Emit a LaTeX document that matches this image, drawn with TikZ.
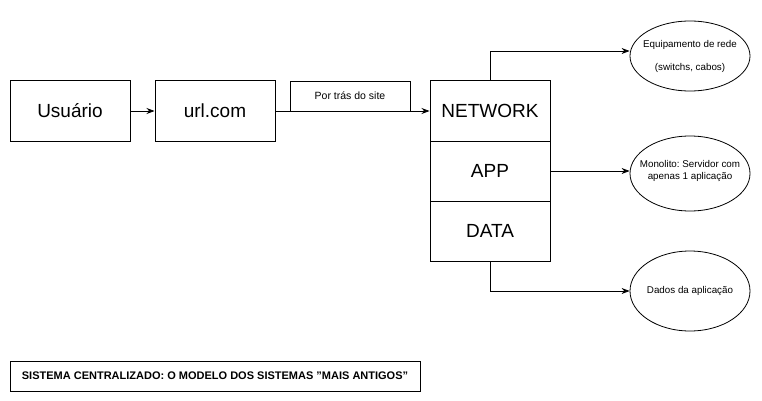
\documentclass[tikz,border=0pt]{standalone}
\usepackage{fontspec}
\setmainfont{Liberation Sans}
\usetikzlibrary{shapes.geometric,arrows.meta}
\frenchspacing
\begin{document}
\begin{tikzpicture}[x=1pt,y=-1pt,
  box/.style={draw,line width=1pt,minimum width=120pt,minimum height=60pt,inner sep=0pt,font=\fontsize{19}{22}\selectfont},
  oval/.style={draw,ellipse,line width=0.8pt,minimum width=120pt,inner sep=0pt},
  otext/.style={align=center,inner sep=0pt,font=\fontsize{9.8}{12}\selectfont},
  conn/.style={line width=0.8pt,-{Stealth[length=8pt,width=6pt]}}]
\useasboundingbox (0,0) rectangle (762,401);
\node[box] (usr) at (70,111) {Usuário};
\node[box] (url) at (215,111) {url.com};
\node[draw,line width=0.8pt,minimum width=120pt,minimum height=30pt,inner sep=0pt,font=\fontsize{10.5}{12}\selectfont] (por) at (350,96) {Por trás do site};
\node[box] (net) at (490,111) {NETWORK};
\node[box] (app) at (490,171) {APP};
\node[box] (dat) at (490,231) {DATA};
\node[oval,minimum height=70pt] (e1) at (690,56) {};
\node[otext] (t1) at (e1) {Equipamento de rede\\[11pt](switchs, cabos)};
\node[oval,minimum height=75pt] (e2) at (690,173.5) {};
\node[otext] (t2) at (690,171) {Monolito: Servidor com\\apenas 1 aplicação};
\node[oval,minimum height=80pt] (e3) at (690,291) {};
\node[otext] (t3) at (e3) {Dados da aplicação};
\node[draw,line width=1pt,minimum width=410pt,minimum height=30pt,inner sep=0pt,font=\bfseries\fontsize{11}{13}\selectfont] (cap) at (215,376) {SISTEMA CENTRALIZADO: O MODELO DOS SISTEMAS \symbol{34}MAIS ANTIGOS\symbol{34}};
\draw[conn] (usr.east) -- (url.east -| url.west);
\draw[conn] (url.east) -- (net.west);
\coordinate (c1) at (490,51);
\coordinate (c3) at (490,291);
\draw[conn] (net.north) -- (c1) -- (e1.west |- c1);
\draw[conn] (app.east) -- (app.east -| e2.west);
\draw[conn] (dat.south) -- (c3) -- (e3.west);
\end{tikzpicture}
\end{document}
